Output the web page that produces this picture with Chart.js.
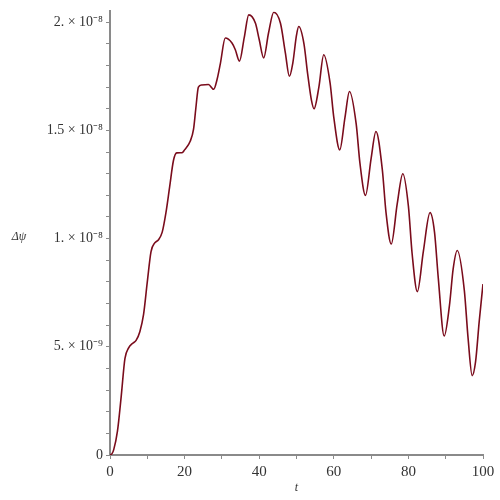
<!DOCTYPE html>
<html>
<head>
<meta charset="utf-8">
<script src="https://cdn.jsdelivr.net/npm/chart.js"></script>
<style>
  body { margin: 0; background: #fff; }
  #wrap { width: 500px; height: 500px; }
</style>
</head>
<body>
<div id="wrap"><canvas id="myChart" width="500" height="500"></canvas></div>
<script>
  // t values and delta psi (in units of 1e-9)
  const tVals = [0, 0.5, 1, 2, 3, 4, 5, 6, 7, 8, 9, 10, 11, 12, 13, 14, 15, 16, 17, 17.9,
    19.3, 20, 21.5, 22.4, 23, 23.7, 24.6, 26.4, 27.8, 28.7, 29.6, 30.9, 32.7, 33.6, 34.7,
    36, 37.2, 39, 40, 41.2, 42.5, 43.9, 45.7, 47, 48.1, 49, 50, 50.6, 52, 53, 54, 54.7,
    56, 57.3, 59, 60, 61.6, 63, 64.2, 66, 67, 68.5, 70, 71.3, 73, 74, 75.4, 77, 78.5,
    80, 81, 82.4, 84, 85.8, 87, 88, 89.6, 91, 92, 93.1, 95, 96, 97.1, 98, 99, 100];
  const dPsi = [0, 0.05, 0.25, 1.1, 2.7, 4.45, 4.95, 5.15, 5.3, 5.7, 6.5, 8.0, 9.4, 9.8, 9.95,
    10.3, 11.2, 12.4, 13.6, 13.96, 13.97, 14.1, 14.5, 15.06, 16.0, 17.0, 17.1, 17.12, 16.9,
    17.35, 18.1, 19.27, 19.04, 18.73, 18.2, 19.3, 20.34, 19.95, 19.2, 18.35, 19.5, 20.46,
    19.95, 18.6, 17.5, 18.1, 19.4, 19.8, 19.0, 17.6, 16.4, 16.0, 17.0, 18.5, 17.2, 15.6,
    14.1, 15.6, 16.8, 15.3, 13.5, 12.0, 13.7, 14.95, 13.2, 11.2, 9.75, 11.6, 13.0, 11.5,
    9.3, 7.55, 9.4, 11.2, 10.3, 8.2, 5.5, 6.9, 8.6, 9.45, 7.6, 5.4, 3.67, 4.3, 6.2, 7.9];

  const xLabels = ['0', '20', '40', '60', '80', '100'];
  const yLabels = { 0: '0', 5: '5. \u00d7 10\u207b\u2079', 10: '1. \u00d7 10\u207b\u2078',
    15: '1.5 \u00d7 10\u207b\u2078', 20: '2. \u00d7 10\u207b\u2078' };

  const points = tVals.map((t, i) => ({ x: t, y: dPsi[i] }));
  const axisGray = '#8a8a8a';
  const serif = 'Liberation Serif';

  // axis names drawn horizontally like the original
  const axisNames = {
    id: 'axisNames',
    afterDraw(chart) {
      const c = chart.ctx;
      const a = chart.chartArea;
      c.save();
      c.fillStyle = '#333';
      c.font = 'italic 12px "' + serif + '"';
      c.textAlign = 'center';
      c.textBaseline = 'middle';
      c.fillText('\u0394\u03c8', 19, 237);
      c.fillText('t', (a.left + a.right) / 2, 488);
      c.restore();
    }
  };

  var ctx = document.getElementById('myChart').getContext('2d');
  var myChart = new Chart(ctx, {
    type: 'line',
    data: {
      datasets: [{
        data: points,
        borderColor: '#7a0c1c',
        borderWidth: 1.6,
        pointRadius: 0,
        cubicInterpolationMode: 'monotone',
        fill: false
      }]
    },
    options: {
      responsive: false,
      animation: false,
      layout: { padding: { top: 9, right: 17, left: 0, bottom: 0 } },
      plugins: {
        legend: { display: false },
        tooltip: { enabled: false }
      },
      scales: {
        x: {
          type: 'linear',
          min: 0,
          max: 100,
          afterFit: s => { s.height = 45; },
          border: { color: axisGray, width: 2 },
          grid: { drawOnChartArea: false, tickLength: 4, color: axisGray, lineWidth: 1 },
          ticks: {
            stepSize: 10,
            maxRotation: 0,
            autoSkip: false,
            padding: 4,
            color: '#333',
            font: { family: serif, size: 15 },
            callback: v => (v % 20 === 0 ? xLabels[v / 20] : '')
          }
        },
        y: {
          min: 0,
          max: 20.5,
          afterFit: s => { s.width = 110; },
          border: { color: axisGray, width: 2 },
          grid: { drawOnChartArea: false, tickLength: 4, color: axisGray, lineWidth: 1 },
          ticks: {
            stepSize: 1,
            includeBounds: false,
            autoSkip: false,
            padding: 3,
            color: '#333',
            font: { family: serif, size: 14 },
            callback: v => {
              const n = Math.round(v);
              return yLabels[n] !== undefined && Math.abs(v - n) < 1e-6 ? yLabels[n] : '';
            }
          }
        }
      }
    },
    plugins: [axisNames]
  });
</script>
</body>
</html>
